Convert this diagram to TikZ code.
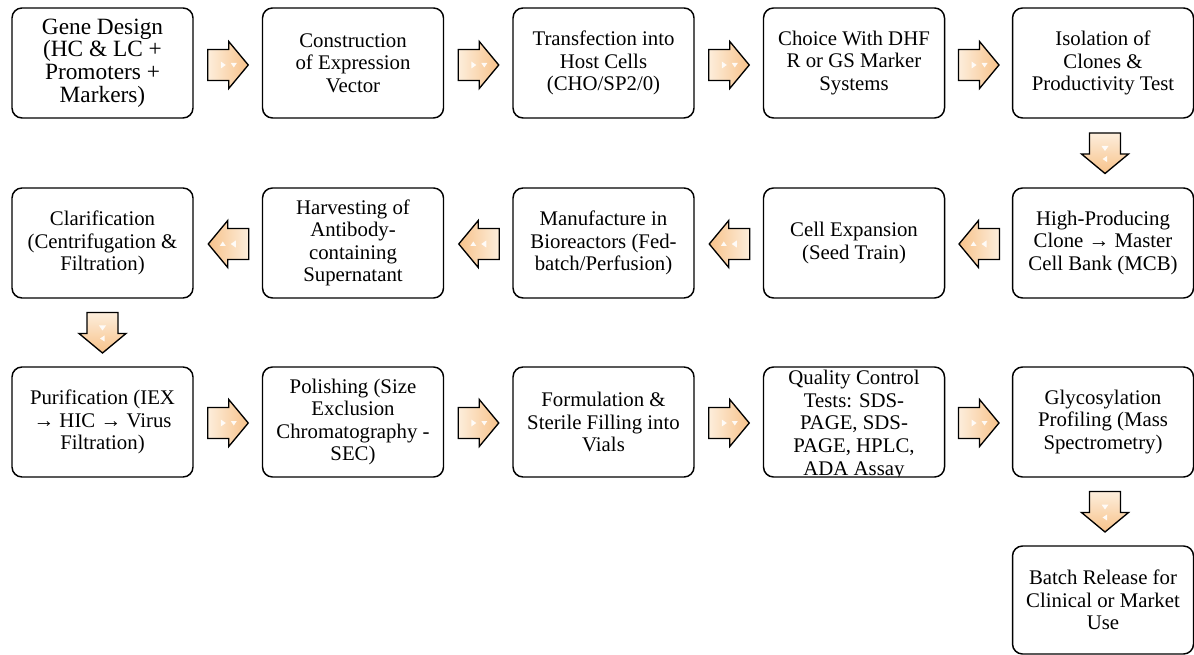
\documentclass[tikz,border=0pt]{standalone}
\usepackage{fontspec}
\setmainfont{Liberation Serif}
\usetikzlibrary{calc}
\definecolor{alight}{HTML}{FDEEDC}
\definecolor{adark}{HTML}{F7C28A}
\newcommand\mybodyfont{\rmfamily\fontsize{15.6}{16.9}\selectfont}
\newcommand\mybigfont{\rmfamily\fontsize{17.5}{16.9}\selectfont}
\tikzset{
  box/.style={draw, line width=1.1pt, rounded corners=7.5pt, minimum width=135.75pt,
    minimum height=82.5pt, align=center, inner sep=0pt, font=\mybodyfont},
  boxtext/.style={align=center, inner sep=0pt, font=\mybodyfont},
  arrowbody/.style={draw, line width=1pt, line join=miter},
  rshade/.style={left color=alight, right color=adark},
  lshade/.style={left color=adark, right color=alight},
  dshade/.style={top color=alight, bottom color=adark},
  pics/barrow/.style={code={
    \path[arrowbody,#1] (-20,-15.5) -- (1,-15.5) -- (1,-23.5) -- (20.5,0) -- (1,23.5) -- (1,15.5) -- (-20,15.5) -- cycle;
    \fill[white, opacity=0.9] (-7,-3.5) -- (-2,0) -- (-7,3.5) -- cycle;
    \fill[white, opacity=0.9] (3,-2) -- (9,-2) -- (6,2.5) -- cycle;
  }}
}
\begin{document}
\begin{tikzpicture}[x=0.75pt,y=-0.75pt]
\useasboundingbox (0,0) rectangle (1194,655);
% row 1
\node[box, font=\mybigfont] (b1) at (102.5,63) {Gene Design\\(HC \& LC +\\Promoters +\\Markers)};
\node[box] (b2) at (353,63) {Construction\\of Expression\\Vector};
\node[box] (b3) at (603.5,63) {Transfection into\\Host Cells\\(CHO/SP2/0)};
\node[box] (b4) at (854,63) {Choice With DHF\\R or GS Marker\\Systems};
\node[box] (b5) at (1103,63) {Isolation of\\Clones \&\\Productivity Test};
% row 2
\node[box] (b6) at (1103,243) {High-Producing\\Clone → Master\\Cell Bank (MCB)};
\node[box] (b7) at (854,243) {Cell Expansion\\(Seed Train)};
\node[box] (b8) at (603.5,243) {Manufacture in\\Bioreactors (Fed-\\batch/Perfusion)};
\node[box] (b9) at (353,243) {Harvesting of\\Antibody-\\containing\\Supernatant};
\node[box] (b10) at (102.5,243) {Clarification\\(Centrifugation \&\\Filtration)};
% row 3
\node[box] (b11) at (102.5,422) {Purification (IEX\\→ HIC → Virus\\Filtration)};
\node[box] (b12) at (353,422) {Polishing (Size\\Exclusion\\Chromatography -\\SEC)};
\node[box] (b13) at (603.5,422) {Formulation \&\\Sterile Filling into\\Vials};
\begin{scope}
  \clip[rounded corners=7.5pt] (763.5,367.5) rectangle (944.5,476.5);
  \node[boxtext] (t14) at (854,425) {Quality Control\\Tests: SDS-\\PAGE, SDS-\\PAGE, HPLC,\\ADA Assay};
\end{scope}
\node[box] (b14) at (854,422) {};
\node[box] (b15) at (1103,422) {Glycosylation\\Profiling (Mass\\Spectrometry)};
% row 4
\node[box, minimum height=81pt] (b16) at (1103,600) {Batch Release for\\Clinical or Market\\Use};
% arrows
\pic at ($(b1.east)!0.5!(b2.west)+(0,2)$) {barrow=rshade};
\pic at ($(b2.east)!0.5!(b3.west)+(0,2)$) {barrow=rshade};
\pic at ($(b3.east)!0.5!(b4.west)+(0,2)$) {barrow=rshade};
\pic at ($(b4.east)!0.5!(b5.west)+(0,2)$) {barrow=rshade};
\pic[rotate=-90] at ($(b5.south)!0.5!(b6.north)+(2,0)$) {barrow=dshade};
\pic[rotate=180] at ($(b6.west)!0.5!(b7.east)+(1,1)$) {barrow=lshade};
\pic[rotate=180] at ($(b7.west)!0.5!(b8.east)+(1,1)$) {barrow=lshade};
\pic[rotate=180] at ($(b8.west)!0.5!(b9.east)+(1,1)$) {barrow=lshade};
\pic[rotate=180] at ($(b9.west)!0.5!(b10.east)+(1,1)$) {barrow=lshade};
\pic[rotate=-90] at ($(b10.south)!0.5!(b11.north)$) {barrow=dshade};
\pic at ($(b11.east)!0.5!(b12.west)+(0,1)$) {barrow=rshade};
\pic at ($(b12.east)!0.5!(b13.west)+(0,1)$) {barrow=rshade};
\pic at ($(b13.east)!0.5!(b14.west)+(0,1)$) {barrow=rshade};
\pic at ($(b14.east)!0.5!(b15.west)+(0,1)$) {barrow=rshade};
\pic[rotate=-90] at ($(b15.south)!0.5!(b16.north)+(2,0)$) {barrow=dshade};
\end{tikzpicture}
\end{document}
